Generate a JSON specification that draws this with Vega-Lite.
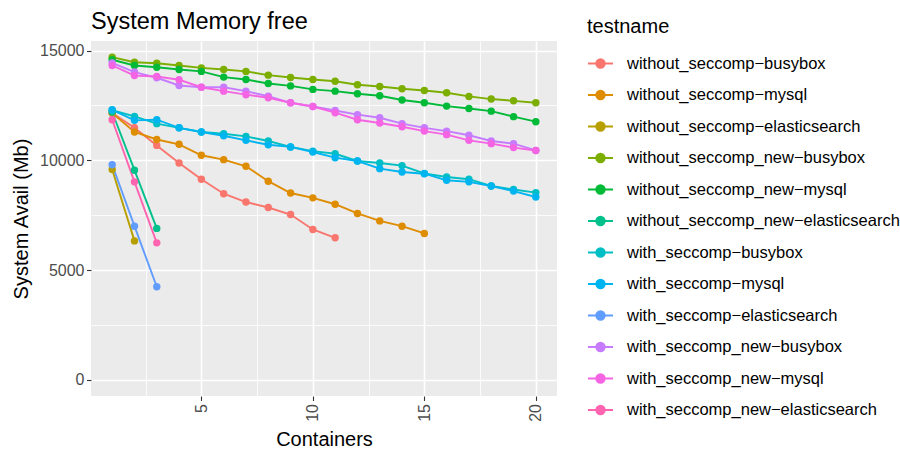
{
  "$schema": "https://vega.github.io/schema/vega-lite/v6.json",
  "width": 466,
  "height": 355,
  "autosize": {"type": "none"},
  "padding": {"left": 91, "top": 41, "right": 343, "bottom": 53},
  "background": "white",
  "title": {"text": "System Memory free", "anchor": "start", "frame": "group", "fontSize": 23.5, "font": "Liberation Sans", "fontWeight": "normal", "color": "black", "offset": -16},
  "config": {
    "font": "Liberation Sans",
    "view": {"fill": "#EBEBEB", "stroke": null},
    "axis": {"domain": false, "gridColor": "white", "tickColor": "#333333", "tickSize": 4.5, "tickWidth": 1.1, "labelColor": "#4D4D4D", "labelFontSize": 16, "titleFontSize": 20, "titleFontWeight": "normal", "titleColor": "black"},
    "legend": {"orient": "none", "legendX": 496, "legendY": -24, "titleFontSize": 20, "titleFontWeight": "normal", "titleColor": "black", "labelFontSize": 16.5, "labelColor": "black", "labelLimit": 400, "padding": 0, "rowPadding": 9.5, "symbolSize": 625, "symbolType": "M-1,0L1,0M-0.34,0a0.34,0.34 0 1,0 0.68,0a0.34,0.34 0 1,0 -0.68,0", "symbolStrokeWidth": 1.9, "labelOffset": 13, "titlePadding": 13}
  },
  "data": {"values": [
    {"testname": "without_seccomp-busybox", "containers": 1, "avail": 12150},
    {"testname": "without_seccomp-busybox", "containers": 2, "avail": 11480},
    {"testname": "without_seccomp-busybox", "containers": 3, "avail": 10680},
    {"testname": "without_seccomp-busybox", "containers": 4, "avail": 9880},
    {"testname": "without_seccomp-busybox", "containers": 5, "avail": 9140},
    {"testname": "without_seccomp-busybox", "containers": 6, "avail": 8480},
    {"testname": "without_seccomp-busybox", "containers": 7, "avail": 8100},
    {"testname": "without_seccomp-busybox", "containers": 8, "avail": 7850},
    {"testname": "without_seccomp-busybox", "containers": 9, "avail": 7530},
    {"testname": "without_seccomp-busybox", "containers": 10, "avail": 6850},
    {"testname": "without_seccomp-busybox", "containers": 11, "avail": 6470},
    {"testname": "without_seccomp-mysql", "containers": 1, "avail": 12150},
    {"testname": "without_seccomp-mysql", "containers": 2, "avail": 11290},
    {"testname": "without_seccomp-mysql", "containers": 3, "avail": 10950},
    {"testname": "without_seccomp-mysql", "containers": 4, "avail": 10730},
    {"testname": "without_seccomp-mysql", "containers": 5, "avail": 10230},
    {"testname": "without_seccomp-mysql", "containers": 6, "avail": 10030},
    {"testname": "without_seccomp-mysql", "containers": 7, "avail": 9730},
    {"testname": "without_seccomp-mysql", "containers": 8, "avail": 9050},
    {"testname": "without_seccomp-mysql", "containers": 9, "avail": 8510},
    {"testname": "without_seccomp-mysql", "containers": 10, "avail": 8290},
    {"testname": "without_seccomp-mysql", "containers": 11, "avail": 8000},
    {"testname": "without_seccomp-mysql", "containers": 12, "avail": 7580},
    {"testname": "without_seccomp-mysql", "containers": 13, "avail": 7240},
    {"testname": "without_seccomp-mysql", "containers": 14, "avail": 7000},
    {"testname": "without_seccomp-mysql", "containers": 15, "avail": 6670},
    {"testname": "without_seccomp-elasticsearch", "containers": 1, "avail": 9580},
    {"testname": "without_seccomp-elasticsearch", "containers": 2, "avail": 6330},
    {"testname": "without_seccomp_new-busybox", "containers": 1, "avail": 14700},
    {"testname": "without_seccomp_new-busybox", "containers": 2, "avail": 14470},
    {"testname": "without_seccomp_new-busybox", "containers": 3, "avail": 14420},
    {"testname": "without_seccomp_new-busybox", "containers": 4, "avail": 14320},
    {"testname": "without_seccomp_new-busybox", "containers": 5, "avail": 14210},
    {"testname": "without_seccomp_new-busybox", "containers": 6, "avail": 14140},
    {"testname": "without_seccomp_new-busybox", "containers": 7, "avail": 14050},
    {"testname": "without_seccomp_new-busybox", "containers": 8, "avail": 13880},
    {"testname": "without_seccomp_new-busybox", "containers": 9, "avail": 13770},
    {"testname": "without_seccomp_new-busybox", "containers": 10, "avail": 13680},
    {"testname": "without_seccomp_new-busybox", "containers": 11, "avail": 13600},
    {"testname": "without_seccomp_new-busybox", "containers": 12, "avail": 13440},
    {"testname": "without_seccomp_new-busybox", "containers": 13, "avail": 13360},
    {"testname": "without_seccomp_new-busybox", "containers": 14, "avail": 13260},
    {"testname": "without_seccomp_new-busybox", "containers": 15, "avail": 13180},
    {"testname": "without_seccomp_new-busybox", "containers": 16, "avail": 13080},
    {"testname": "without_seccomp_new-busybox", "containers": 17, "avail": 12910},
    {"testname": "without_seccomp_new-busybox", "containers": 18, "avail": 12790},
    {"testname": "without_seccomp_new-busybox", "containers": 19, "avail": 12710},
    {"testname": "without_seccomp_new-busybox", "containers": 20, "avail": 12620},
    {"testname": "without_seccomp_new-mysql", "containers": 1, "avail": 14580},
    {"testname": "without_seccomp_new-mysql", "containers": 2, "avail": 14320},
    {"testname": "without_seccomp_new-mysql", "containers": 3, "avail": 14240},
    {"testname": "without_seccomp_new-mysql", "containers": 4, "avail": 14140},
    {"testname": "without_seccomp_new-mysql", "containers": 5, "avail": 14050},
    {"testname": "without_seccomp_new-mysql", "containers": 6, "avail": 13790},
    {"testname": "without_seccomp_new-mysql", "containers": 7, "avail": 13680},
    {"testname": "without_seccomp_new-mysql", "containers": 8, "avail": 13500},
    {"testname": "without_seccomp_new-mysql", "containers": 9, "avail": 13390},
    {"testname": "without_seccomp_new-mysql", "containers": 10, "avail": 13230},
    {"testname": "without_seccomp_new-mysql", "containers": 11, "avail": 13150},
    {"testname": "without_seccomp_new-mysql", "containers": 12, "avail": 13030},
    {"testname": "without_seccomp_new-mysql", "containers": 13, "avail": 12940},
    {"testname": "without_seccomp_new-mysql", "containers": 14, "avail": 12750},
    {"testname": "without_seccomp_new-mysql", "containers": 15, "avail": 12620},
    {"testname": "without_seccomp_new-mysql", "containers": 16, "avail": 12470},
    {"testname": "without_seccomp_new-mysql", "containers": 17, "avail": 12360},
    {"testname": "without_seccomp_new-mysql", "containers": 18, "avail": 12240},
    {"testname": "without_seccomp_new-mysql", "containers": 19, "avail": 11990},
    {"testname": "without_seccomp_new-mysql", "containers": 20, "avail": 11760},
    {"testname": "without_seccomp_new-elasticsearch", "containers": 1, "avail": 12200},
    {"testname": "without_seccomp_new-elasticsearch", "containers": 2, "avail": 9550},
    {"testname": "without_seccomp_new-elasticsearch", "containers": 3, "avail": 6900},
    {"testname": "with_seccomp-busybox", "containers": 1, "avail": 12280},
    {"testname": "with_seccomp-busybox", "containers": 2, "avail": 12000},
    {"testname": "with_seccomp-busybox", "containers": 3, "avail": 11670},
    {"testname": "with_seccomp-busybox", "containers": 4, "avail": 11480},
    {"testname": "with_seccomp-busybox", "containers": 5, "avail": 11290},
    {"testname": "with_seccomp-busybox", "containers": 6, "avail": 11210},
    {"testname": "with_seccomp-busybox", "containers": 7, "avail": 11090},
    {"testname": "with_seccomp-busybox", "containers": 8, "avail": 10880},
    {"testname": "with_seccomp-busybox", "containers": 9, "avail": 10610},
    {"testname": "with_seccomp-busybox", "containers": 10, "avail": 10420},
    {"testname": "with_seccomp-busybox", "containers": 11, "avail": 10300},
    {"testname": "with_seccomp-busybox", "containers": 12, "avail": 9970},
    {"testname": "with_seccomp-busybox", "containers": 13, "avail": 9880},
    {"testname": "with_seccomp-busybox", "containers": 14, "avail": 9760},
    {"testname": "with_seccomp-busybox", "containers": 15, "avail": 9400},
    {"testname": "with_seccomp-busybox", "containers": 16, "avail": 9240},
    {"testname": "with_seccomp-busybox", "containers": 17, "avail": 9140},
    {"testname": "with_seccomp-busybox", "containers": 18, "avail": 8830},
    {"testname": "with_seccomp-busybox", "containers": 19, "avail": 8670},
    {"testname": "with_seccomp-busybox", "containers": 20, "avail": 8530},
    {"testname": "with_seccomp-mysql", "containers": 1, "avail": 12300},
    {"testname": "with_seccomp-mysql", "containers": 2, "avail": 11820},
    {"testname": "with_seccomp-mysql", "containers": 3, "avail": 11850},
    {"testname": "with_seccomp-mysql", "containers": 4, "avail": 11480},
    {"testname": "with_seccomp-mysql", "containers": 5, "avail": 11290},
    {"testname": "with_seccomp-mysql", "containers": 6, "avail": 11120},
    {"testname": "with_seccomp-mysql", "containers": 7, "avail": 10910},
    {"testname": "with_seccomp-mysql", "containers": 8, "avail": 10710},
    {"testname": "with_seccomp-mysql", "containers": 9, "avail": 10610},
    {"testname": "with_seccomp-mysql", "containers": 10, "avail": 10380},
    {"testname": "with_seccomp-mysql", "containers": 11, "avail": 10120},
    {"testname": "with_seccomp-mysql", "containers": 12, "avail": 9970},
    {"testname": "with_seccomp-mysql", "containers": 13, "avail": 9620},
    {"testname": "with_seccomp-mysql", "containers": 14, "avail": 9470},
    {"testname": "with_seccomp-mysql", "containers": 15, "avail": 9390},
    {"testname": "with_seccomp-mysql", "containers": 16, "avail": 9090},
    {"testname": "with_seccomp-mysql", "containers": 17, "avail": 9020},
    {"testname": "with_seccomp-mysql", "containers": 18, "avail": 8830},
    {"testname": "with_seccomp-mysql", "containers": 19, "avail": 8600},
    {"testname": "with_seccomp-mysql", "containers": 20, "avail": 8330},
    {"testname": "with_seccomp-elasticsearch", "containers": 1, "avail": 9800},
    {"testname": "with_seccomp-elasticsearch", "containers": 2, "avail": 7000},
    {"testname": "with_seccomp-elasticsearch", "containers": 3, "avail": 4240},
    {"testname": "with_seccomp_new-busybox", "containers": 1, "avail": 14440},
    {"testname": "with_seccomp_new-busybox", "containers": 2, "avail": 14020},
    {"testname": "with_seccomp_new-busybox", "containers": 3, "avail": 13760},
    {"testname": "with_seccomp_new-busybox", "containers": 4, "avail": 13410},
    {"testname": "with_seccomp_new-busybox", "containers": 5, "avail": 13330},
    {"testname": "with_seccomp_new-busybox", "containers": 6, "avail": 13330},
    {"testname": "with_seccomp_new-busybox", "containers": 7, "avail": 13150},
    {"testname": "with_seccomp_new-busybox", "containers": 8, "avail": 12920},
    {"testname": "with_seccomp_new-busybox", "containers": 9, "avail": 12620},
    {"testname": "with_seccomp_new-busybox", "containers": 10, "avail": 12450},
    {"testname": "with_seccomp_new-busybox", "containers": 11, "avail": 12270},
    {"testname": "with_seccomp_new-busybox", "containers": 12, "avail": 12080},
    {"testname": "with_seccomp_new-busybox", "containers": 13, "avail": 11940},
    {"testname": "with_seccomp_new-busybox", "containers": 14, "avail": 11670},
    {"testname": "with_seccomp_new-busybox", "containers": 15, "avail": 11480},
    {"testname": "with_seccomp_new-busybox", "containers": 16, "avail": 11330},
    {"testname": "with_seccomp_new-busybox", "containers": 17, "avail": 11140},
    {"testname": "with_seccomp_new-busybox", "containers": 18, "avail": 10880},
    {"testname": "with_seccomp_new-busybox", "containers": 19, "avail": 10760},
    {"testname": "with_seccomp_new-busybox", "containers": 20, "avail": 10450},
    {"testname": "with_seccomp_new-mysql", "containers": 1, "avail": 14320},
    {"testname": "with_seccomp_new-mysql", "containers": 2, "avail": 13860},
    {"testname": "with_seccomp_new-mysql", "containers": 3, "avail": 13820},
    {"testname": "with_seccomp_new-mysql", "containers": 4, "avail": 13670},
    {"testname": "with_seccomp_new-mysql", "containers": 5, "avail": 13330},
    {"testname": "with_seccomp_new-mysql", "containers": 6, "avail": 13150},
    {"testname": "with_seccomp_new-mysql", "containers": 7, "avail": 12990},
    {"testname": "with_seccomp_new-mysql", "containers": 8, "avail": 12850},
    {"testname": "with_seccomp_new-mysql", "containers": 9, "avail": 12620},
    {"testname": "with_seccomp_new-mysql", "containers": 10, "avail": 12450},
    {"testname": "with_seccomp_new-mysql", "containers": 11, "avail": 12170},
    {"testname": "with_seccomp_new-mysql", "containers": 12, "avail": 11850},
    {"testname": "with_seccomp_new-mysql", "containers": 13, "avail": 11700},
    {"testname": "with_seccomp_new-mysql", "containers": 14, "avail": 11530},
    {"testname": "with_seccomp_new-mysql", "containers": 15, "avail": 11330},
    {"testname": "with_seccomp_new-mysql", "containers": 16, "avail": 11170},
    {"testname": "with_seccomp_new-mysql", "containers": 17, "avail": 10910},
    {"testname": "with_seccomp_new-mysql", "containers": 18, "avail": 10760},
    {"testname": "with_seccomp_new-mysql", "containers": 19, "avail": 10580},
    {"testname": "with_seccomp_new-mysql", "containers": 20, "avail": 10450},
    {"testname": "with_seccomp_new-elasticsearch", "containers": 1, "avail": 11850},
    {"testname": "with_seccomp_new-elasticsearch", "containers": 2, "avail": 9020},
    {"testname": "with_seccomp_new-elasticsearch", "containers": 3, "avail": 6240}
  ]},
  "encoding": {
    "x": {"field": "containers", "type": "quantitative",
      "scale": {"domain": [0.05, 20.95], "nice": false, "zero": false},
      "axis": {"title": "Containers", "values": [2.5, 5, 7.5, 10, 12.5, 15, 17.5, 20], "format": "d",
        "labelExpr": "datum.value % 5 === 0 ? datum.label : ''",
        "labelAngle": 270, "labelPadding": 3,
        "gridWidth": {"condition": {"test": "datum.value % 5 !== 0", "value": 0.8}, "value": 1.6},
        "tickOpacity": {"condition": {"test": "datum.value % 5 !== 0", "value": 0}, "value": 1},
        "titlePadding": 8}},
    "y": {"field": "avail", "type": "quantitative",
      "scale": {"domain": [-735, 15435], "nice": false, "zero": false},
      "axis": {"title": "System Avail (Mb)", "values": [0, 2500, 5000, 7500, 10000, 12500, 15000], "format": "d",
        "labelExpr": "datum.value % 5000 === 0 ? datum.label : ''",
        "labelPadding": 2.5,
        "gridWidth": {"condition": {"test": "datum.value % 5000 !== 0", "value": 0.8}, "value": 1.6},
        "tickOpacity": {"condition": {"test": "datum.value % 5000 !== 0", "value": 0}, "value": 1},
        "titlePadding": 8}},
    "color": {"field": "testname", "type": "nominal",
      "scale": {
        "domain": ["without_seccomp-busybox", "without_seccomp-mysql", "without_seccomp-elasticsearch", "without_seccomp_new-busybox", "without_seccomp_new-mysql", "without_seccomp_new-elasticsearch", "with_seccomp-busybox", "with_seccomp-mysql", "with_seccomp-elasticsearch", "with_seccomp_new-busybox", "with_seccomp_new-mysql", "with_seccomp_new-elasticsearch"],
        "range": ["#F8766D", "#DE8C00", "#B79F00", "#7CAE00", "#00BA38", "#00C08B", "#00BFC4", "#00B4F0", "#619CFF", "#C77CFF", "#F564E3", "#FF64B0"]},
      "legend": {"title": "testname", "labelExpr": "replace(datum.label, '-', '\u2212')"}}
  },
  "layer": [
    {"mark": {"type": "line", "strokeWidth": 1.9}},
    {"mark": {"type": "point", "filled": true, "size": 55, "opacity": 1}}
  ]
}
